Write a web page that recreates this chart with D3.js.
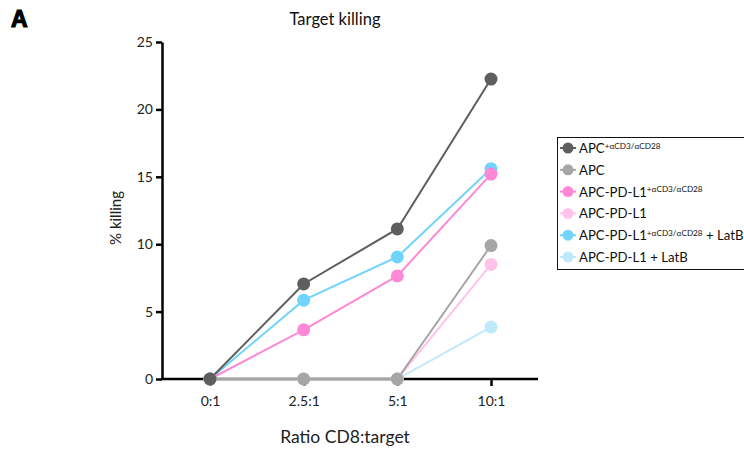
<!DOCTYPE html>
<html>
<head>
<meta charset="utf-8">
<script src="https://cdn.jsdelivr.net/npm/d3@7"></script>
<style>
  html, body { margin: 0; padding: 0; background: #fff; }
  svg { display: block; font-family: Lato, "Noto Sans", sans-serif; }
</style>
</head>
<body>
<svg id="chart" width="744" height="452"></svg>
<script>
// Effector:target ratios on the x axis
const ratios = ["0:1", "2.5:1", "5:1", "10:1"];
const yTicks = [0, 5, 10, 15, 20, 25];

// % killing per condition, one value per ratio
const apcStim      = [0, 7.05, 11.13, 22.25];
const apc          = [0, 0, 0, 9.9];
const pdl1Stim     = [0, 3.65, 7.65, 15.2];
const pdl1         = [0, 0, 0, 8.5];
const pdl1StimLatB = [0, 5.85, 9.05, 15.6];
const pdl1LatB     = [0, 0, 0, 3.85];

// Legend order; z sets drawing order (lowest drawn first)
const series = [
  { name: "APC", sup: "+αCD3/αCD28", tail: "", values: apcStim, color: "#5e5e5e", legendRow: 0, z: 5 },
  { name: "APC", sup: "", tail: "", values: apc, color: "#a6a6a6", legendRow: 1, z: 4 },
  { name: "APC-PD-L1", sup: "+αCD3/αCD28", tail: "", values: pdl1Stim, color: "#ff88d6", legendRow: 2, z: 3 },
  { name: "APC-PD-L1", sup: "", tail: "", values: pdl1, color: "#ffc3ea", legendRow: 3, z: 0 },
  { name: "APC-PD-L1", sup: "+αCD3/αCD28", tail: " + LatB", values: pdl1StimLatB, color: "#70d4fc", legendRow: 4, z: 2 },
  { name: "APC-PD-L1 + LatB", sup: "", tail: "", values: pdl1LatB, color: "#bfe9fb", legendRow: 5, z: 1 }
];

const svg = d3.select("#chart");

const x = d3.scalePoint().domain(ratios).range([210, 491]);
const y = d3.scaleLinear().domain([0, 25]).range([379, 42]);

// Panel letter
svg.append("text")
  .attr("x", 11).attr("y", 27)
  .attr("font-family", "'Liberation Sans', Arial, sans-serif")
  .attr("font-weight", 900).attr("font-size", 23)
  .attr("stroke", "#000").attr("stroke-width", 1.2)
  .text("A");

// Title
svg.append("text")
  .attr("x", 335).attr("y", 25)
  .attr("text-anchor", "middle").attr("font-size", 16.5)
  .attr("fill", "#111")
  .text("Target killing");

// Y axis
const yAxis = svg.append("g")
  .attr("transform", "translate(162,0)")
  .call(d3.axisLeft(y).tickValues(yTicks).tickSize(6).tickPadding(3).tickSizeOuter(0));
yAxis.attr("font-family", null);
yAxis.select(".domain").attr("stroke", "#000").attr("stroke-width", 2.5);
yAxis.selectAll(".tick line").attr("stroke", "#000").attr("stroke-width", 2.5);
yAxis.selectAll(".tick text").attr("font-size", 14).attr("fill", "#222");

// X axis
const xAxis = svg.append("g")
  .attr("transform", "translate(0,379)")
  .call(d3.axisBottom(x).tickSize(7).tickPadding(10).tickSizeOuter(0));
xAxis.attr("font-family", null);
xAxis.select(".domain").attr("d", "M161,0H538").attr("stroke", "#000").attr("stroke-width", 2.5);
xAxis.selectAll(".tick line").attr("stroke", "#000").attr("stroke-width", 2.5);
xAxis.selectAll(".tick text").attr("font-size", 14).attr("fill", "#222");

// Axis titles
svg.append("text")
  .attr("transform", "translate(121,218) rotate(-90)")
  .attr("text-anchor", "middle").attr("font-size", 15).attr("fill", "#222")
  .text("% killing");
svg.append("text")
  .attr("x", 345).attr("y", 443)
  .attr("text-anchor", "middle").attr("font-size", 17.5).attr("fill", "#222")
  .text("Ratio CD8:target");

// Lines and points
const drawOrder = series.slice().sort((a, b) => a.z - b.z);
const line = d3.line().x((d, i) => x(ratios[i])).y(d => y(d));

const lineG = svg.append("g");
drawOrder.forEach(s => {
  lineG.append("path")
    .attr("d", line(s.values))
    .attr("fill", "none")
    .attr("stroke", s.color)
    .attr("stroke-width", 2);
});
const dotG = svg.append("g");
drawOrder.forEach(s => {
  dotG.selectAll(null).data(s.values).enter().append("circle")
    .attr("cx", (d, i) => x(ratios[i]))
    .attr("cy", d => y(d))
    .attr("r", 6.5)
    .attr("fill", s.color);
});

// Legend
const legend = svg.append("g");
legend.append("rect")
  .attr("x", 557.5).attr("y", 137.5).attr("width", 200).attr("height", 132)
  .attr("fill", "#fff").attr("stroke", "#111").attr("stroke-width", 1);
const rowY = d3.scaleLinear().domain([0, 5]).range([148, 257]);
series.forEach(s => {
  const yy = rowY(s.legendRow);
  legend.append("line")
    .attr("x1", 560).attr("x2", 576).attr("y1", yy).attr("y2", yy)
    .attr("stroke", s.color).attr("stroke-width", 2);
  legend.append("circle")
    .attr("cx", 568).attr("cy", yy).attr("r", 5.5).attr("fill", s.color);
  const t = legend.append("text")
    .attr("x", 579).attr("y", yy + 5)
    .attr("font-size", 13.2).attr("fill", "#111");
  t.append("tspan").text(s.name);
  if (s.sup) {
    t.append("tspan").attr("font-size", 8.2).attr("dy", -4.5).text(s.sup);
  }
  if (s.tail) {
    t.append("tspan").attr("dy", s.sup ? 4.5 : 0).text(s.tail);
  }
});
</script>
</body>
</html>
